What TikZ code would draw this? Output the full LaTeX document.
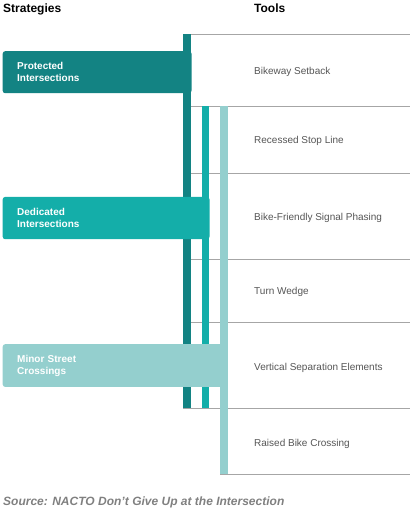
\documentclass[tikz,border=0pt]{standalone}
\usepackage{fontspec}
\setmainfont{Liberation Sans}
\definecolor{cdark}{HTML}{138383}
\definecolor{cmid}{HTML}{14AEA9}
\definecolor{clight}{HTML}{94CFCE}
\definecolor{crule}{HTML}{A6A6A6}
\definecolor{ctool}{HTML}{555555}
\definecolor{csrc}{HTML}{808080}
\begin{document}
\begin{tikzpicture}[x=1pt,y=-1pt,
  stratbox/.style={anchor=north west, rounded corners=2.5pt, inner xsep=14.5pt, inner ysep=0pt,
    align=left, text=white, font=\bfseries\fontsize{10}{12}\selectfont},
  toollabel/.style={anchor=base west, inner sep=0pt, text=ctool, font=\fontsize{10}{12}\selectfont},
  header/.style={anchor=base west, inner sep=0pt, font=\bfseries\fontsize{12}{14}\selectfont},
  rule/.style={draw=crule, line width=0.8pt}]
\useasboundingbox (0,0) rectangle (415,515);

% headers
\node[header] (hs) at (3,12) {Strategies};
\node[header] (ht) at (254,12) {Tools};

% rules
\draw[rule] (183,34) -- (410,34);
\draw[rule] (183,106) -- (410,106);
\draw[rule] (183,173) -- (410,173);
\draw[rule] (183,259) -- (410,259);
\draw[rule] (183,322) -- (410,322);
\draw[rule] (183,408) -- (410,408);
\draw[rule] (220,474) -- (410,474);

% tools
\node[toollabel] (t1) at (254,74.5) {Bikeway Setback};
\node[toollabel] (t2) at (254,143.4) {Recessed Stop Line};
\node[toollabel] (t3) at (254,220) {Bike-Friendly Signal Phasing};
\node[toollabel] (t4) at (254,294.8) {Turn Wedge};
\node[toollabel] (t5) at (254,370.6) {Vertical Separation Elements};
\node[toollabel] (t6) at (254,446.5) {Raised Bike Crossing};

% strategy boxes and bars
\node[stratbox, fill=cdark, minimum width=188.8pt, text width=159.8pt, minimum height=42pt] (s1) at (2.5,51) {Protected\\Intersections};
\fill[cdark] (183.3,34) rectangle (191.2,408);
\node[stratbox, fill=cmid, minimum width=206.8pt, text width=177.8pt, minimum height=42.3pt] (s2) at (2.5,196.7) {Dedicated\\Intersections};
\fill[cmid] (201.7,106) rectangle (209.3,408);
\node[stratbox, fill=clight, minimum width=225.2pt, text width=196.2pt, minimum height=42.7pt] (s3) at (2.5,344) {Minor Street\\Crossings};
\fill[clight] (220,106) rectangle (227.7,474);

% source
\node[anchor=base west, inner sep=0pt, text=csrc, font=\bfseries\itshape\fontsize{12}{14}\selectfont] (src) at (3,505.5) {Source: NACTO Don’t Give Up at the Intersection};
\end{tikzpicture}
\end{document}
